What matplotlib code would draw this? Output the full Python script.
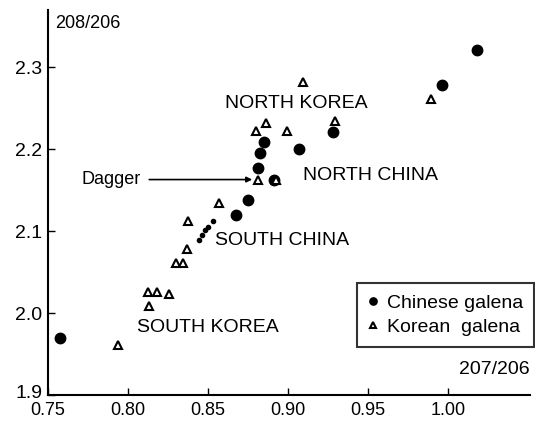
import matplotlib
matplotlib.use('Agg')
import matplotlib.pyplot as plt
from matplotlib.transforms import ScaledTranslation

plt.rcParams['font.family'] = ['Liberation Sans', 'DejaVu Sans']

# Chinese galena (filled circles): 207/206 vs 208/206
china_x = [0.7575, 1.018, 0.996, 0.928, 0.885, 0.8825, 0.907, 0.881, 0.891, 0.875, 0.8675]
china_y = [1.9695, 2.321, 2.278, 2.221, 2.209, 2.196, 2.200, 2.177, 2.163, 2.138, 2.120]

# small dots in the South China cluster
china_small_x = [0.853, 0.850, 0.848, 0.846, 0.844]
china_small_y = [2.113, 2.105, 2.102, 2.095, 2.089]

# Korean galena (open triangles)
korea_x = [0.989, 0.909, 0.929, 0.880, 0.886, 0.899, 0.881, 0.8925, 0.857, 0.8375,
           0.837, 0.830, 0.834, 0.8125, 0.818, 0.8256, 0.813, 0.794]
korea_y = [2.261, 2.282, 2.234, 2.222, 2.232, 2.222, 2.163, 2.163, 2.135, 2.113,
           2.078, 2.061, 2.061, 2.026, 2.026, 2.023, 2.009, 1.961]

region_labels = ['NORTH KOREA', 'NORTH CHINA', 'SOUTH CHINA', 'SOUTH KOREA']
region_x = [0.8606, 0.909, 0.854, 0.8056]
region_y = [2.256, 2.168, 2.088, 1.982]

fig = plt.figure(figsize=(5.35, 4.23), dpi=100)
ax = fig.add_axes([48/535, 1 - 395/423, 482/535, 385/423])

ax.plot(china_x, china_y, 'o', color='black', markersize=7.5, linestyle='none',
        label='Chinese galena')
ax.plot(china_small_x, china_small_y, 'o', color='black', markersize=3, linestyle='none')
ax.plot(korea_x, korea_y, '^', markerfacecolor='white', markeredgecolor='black',
        markeredgewidth=1.5, markersize=6, linestyle='none', label='Korean  galena')

for lab, x, y in zip(region_labels, region_x, region_y):
    ax.text(x, y, lab, fontsize=14, va='center', ha='left')

ax.annotate('Dagger', xy=(0.8775, 2.163), xytext=(0.771, 2.163),
            fontsize=13, va='center', ha='left',
            arrowprops=dict(arrowstyle='-|>', color='black', lw=1.2,
                            shrinkA=4, shrinkB=0, mutation_scale=8))

ax.set_xlim(0.75, 1.051)
ax.set_ylim(1.9, 2.37)
ax.set_xticks([0.75, 0.80, 0.85, 0.90, 0.95, 1.00])
ax.set_xticklabels(['0.75', '0.80', '0.85', '0.90', '0.95', '1.00'])
ax.set_yticks([1.9, 2.0, 2.1, 2.2, 2.3])
ax.set_yticklabels(['1.9', '2.0', '2.1', '2.2', '2.3'])
ax.tick_params(direction='in', length=5, width=1)
ax.tick_params(axis='x', labelsize=13, pad=5)
ax.tick_params(axis='y', labelsize=14, pad=4)
ax.spines['top'].set_visible(False)
ax.spines['right'].set_visible(False)
ax.spines['left'].set_linewidth(1.5)
ax.spines['bottom'].set_linewidth(1.5)

# lift the lowest y label a little so it clears "0.75"
ylab = ax.get_yticklabels()[0]
ylab.set_transform(ylab.get_transform() + ScaledTranslation(0, 3/100, fig.dpi_scale_trans))

ax.text(0.015, 0.987, '208/206', transform=ax.transAxes, fontsize=13, va='top', ha='left')
ax.text(1.0, 0.065, '207/206', transform=ax.transAxes, fontsize=14, va='center', ha='right')

leg = ax.legend(loc='lower right', bbox_to_anchor=(1.008, 0.125), fontsize=14,
                frameon=True, fancybox=False, edgecolor='black', handlelength=0.6,
                handletextpad=0.4, borderpad=0.55, labelspacing=0.35, markerscale=0.7,
                borderaxespad=0)
leg.get_frame().set_linewidth(1.5)

fig.savefig('out.png', dpi=100)
